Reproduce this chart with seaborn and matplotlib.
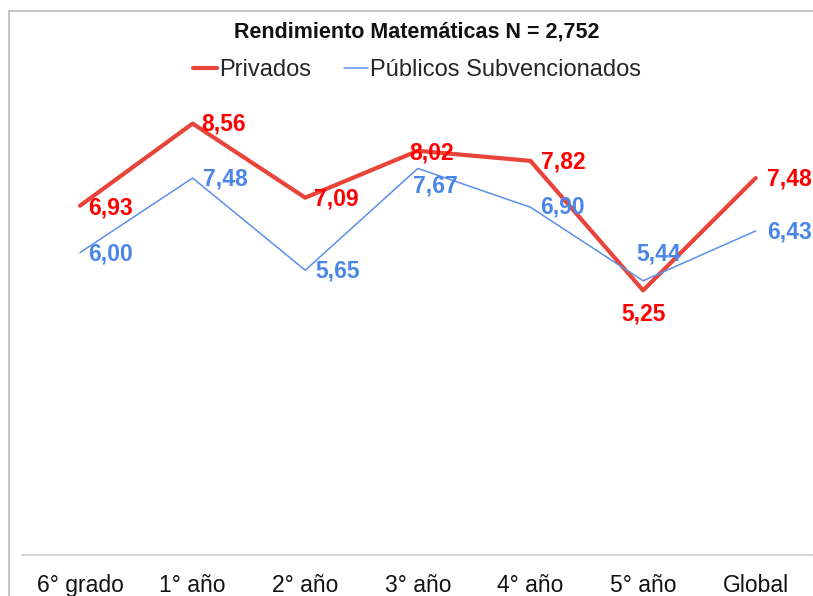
import pandas as pd
import numpy as np
import matplotlib
matplotlib.use('Agg')
import matplotlib.pyplot as plt
import seaborn as sns
from matplotlib.lines import Line2D

categorias = ['6° grado', '1° año', '2° año', '3° año', '4° año', '5° año', 'Global']
privados = [6.93, 8.56, 7.09, 8.02, 7.82, 5.25, 7.48]
publicos = [6.00, 7.48, 5.65, 7.67, 6.90, 5.44, 6.43]
series = ['Privados', 'Públicos Subvencionados']
titulo = 'Rendimiento Matemáticas N = 2,752'

sns.set_theme(style='white')
plt.rcParams['font.family'] = ['Liberation Sans', 'DejaVu Sans']

df = pd.DataFrame({
    'pos': list(range(len(categorias))) * 2,
    'valor': privados + publicos,
    'serie': [series[0]] * len(categorias) + [series[1]] * len(categorias),
})

colores = {series[0]: '#E8443A', series[1]: '#5B8FEA'}
color_txt = {series[0]: '#FF0000', series[1]: '#4A86E8'}

fig = plt.figure(figsize=(8.13, 5.96), dpi=100)
ax = fig.add_axes([22 / 813, 41 / 596, 790 / 813, 504 / 596])

sns.lineplot(data=df, x='pos', y='valor', hue='serie', palette=colores,
             size='serie', sizes={series[0]: 3.0, series[1]: 1.1}, ax=ax, legend=False)

ax.set_xlim(-0.515, 6.5)
ax.set_ylim(0, 10)
ax.set_xticks(range(len(categorias)))
ax.set_xticklabels(categorias, fontsize=16.5, color='#111111')
ax.set_yticks([])
ax.set_xlabel('')
ax.set_ylabel('')
ax.tick_params(axis='x', length=0, pad=14)
for s in ['top', 'right', 'left']:
    ax.spines[s].set_visible(False)
ax.spines['bottom'].set_color('#CCCCCC')
ax.spines['bottom'].set_linewidth(1.2)

# etiquetas de datos (offset en pixeles -> puntos)
px = 72 / 100
off_priv = [(8, -2, 'left'), (9, 0, 'left'), (9, -1, 'left'), (14, -2, 'center'),
            (11, -1, 'left'), (0, -24, 'center'), (11, -1, 'left')]
off_pub = [(8, -1, 'left'), (10, -1, 'left'), (10, -1, 'left'), (18, -18, 'center'),
           (10, 0, 'left'), (16, 27, 'center'), (11, -1, 'left')]
for vals, offs, s in [(privados, off_priv, series[0]), (publicos, off_pub, series[1])]:
    for i, (v, (dx, dy, ha)) in enumerate(zip(vals, offs)):
        ax.annotate(f'{v:.2f}'.replace('.', ','), (i, v), xytext=(dx * px, dy * px),
                    textcoords='offset points', ha=ha, va='center',
                    fontsize=16.5, fontweight='bold', color=color_txt[s])

handles = [Line2D([], [], color=colores[series[0]], lw=3.0),
           Line2D([], [], color=colores[series[1]], lw=1.1)]
ax.legend(handles, series, loc='center', bbox_to_anchor=(0.5, (596 - 70 - 41) / 504),
          ncol=2, frameon=False, fontsize=17, handlelength=1.0, handletextpad=0.1,
          columnspacing=1.4)

fig.text(417 / 813, 1 - 32 / 596, titulo, ha='center', va='center',
         fontsize=15.5, fontweight='bold', color='#111111')

# borde del area del grafico
fig.add_artist(Line2D([9 / 813, 1], [1 - 11 / 596] * 2, color='#BBBBBB', lw=1.2))
fig.add_artist(Line2D([9 / 813] * 2, [0, 1 - 11 / 596], color='#BBBBBB', lw=1.2))

fig.savefig('out.png', dpi=100)
